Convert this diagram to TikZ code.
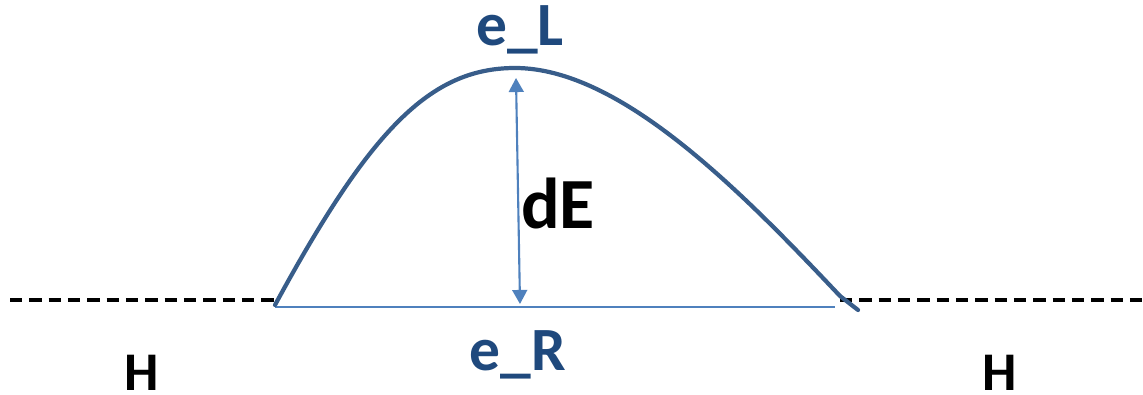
\documentclass[tikz,border=0pt]{standalone}
\usepackage{fontspec}
\setmainfont{Carlito}
\usetikzlibrary{arrows.meta,positioning}
\definecolor{curvecolor}{RGB}{56,93,138}
\definecolor{labelcolor}{RGB}{31,73,125}
\definecolor{arrowcolor}{RGB}{79,129,189}

\begin{document}
\begin{tikzpicture}[
    x=0.02cm, y=-0.02cm,
    level/.style={draw=black, line width=2.8pt, dash pattern=on 7pt off 4pt},
    barrier/.style={draw=curvecolor, line width=2.4pt, line cap=round},
    gap/.style={{Triangle[length=8pt,width=8.5pt]}-{Triangle[length=8pt,width=8.5pt]}, arrowcolor, line width=1.2pt},
    base/.style={draw=arrowcolor, line width=1.4pt},
    elabel/.style={font=\bfseries\fontsize{35}{40}\selectfont, text=labelcolor, inner sep=0pt},
    hlabel/.style={font=\bfseries\fontsize{31}{36}\selectfont, text=black, inner sep=0pt}
]
\useasboundingbox (0,0) rectangle (1143,395);

% Points of the curve
\coordinate (start) at (275,305);
\coordinate (peak) at (515,68);
\coordinate (kink) at (840,296);
\coordinate (tail) at (858,310);
\coordinate (bstart) at (275,307);
\coordinate (bend) at (835,307);

% Dashed levels
\coordinate (lleft) at (10,300);
\coordinate (lright) at (275,300);
\coordinate (rleft) at (840,300);
\coordinate (rright) at (1143,300);
\draw[level] (lleft) -- (lright);
\draw[level] (rleft) -- (rright);

% Base line
\draw[base] (bstart) -- (bend);

% Barrier
\draw[barrier] (start) .. controls (370,130) and (430,68) .. (peak)
    .. controls (620,68) and (740,190) .. (kink) -- (tail);

% Height arrow
\coordinate (atop) at (516,78);
\coordinate (abot) at (520,304);
\draw[gap] (abot) -- (atop);

% Labels
\node[elabel] (eL) at (520,30) {e\_L};
\node[elabel] (eR) at (518,355) {e\_R};
\node[hlabel, font=\bfseries\fontsize{41}{46}\selectfont] (dE) at (558,203) {dE};
\node[hlabel] (hL) at (142,373) {H};
\node[hlabel] (hR) at (1000,373) {H};

\end{tikzpicture}
\end{document}
